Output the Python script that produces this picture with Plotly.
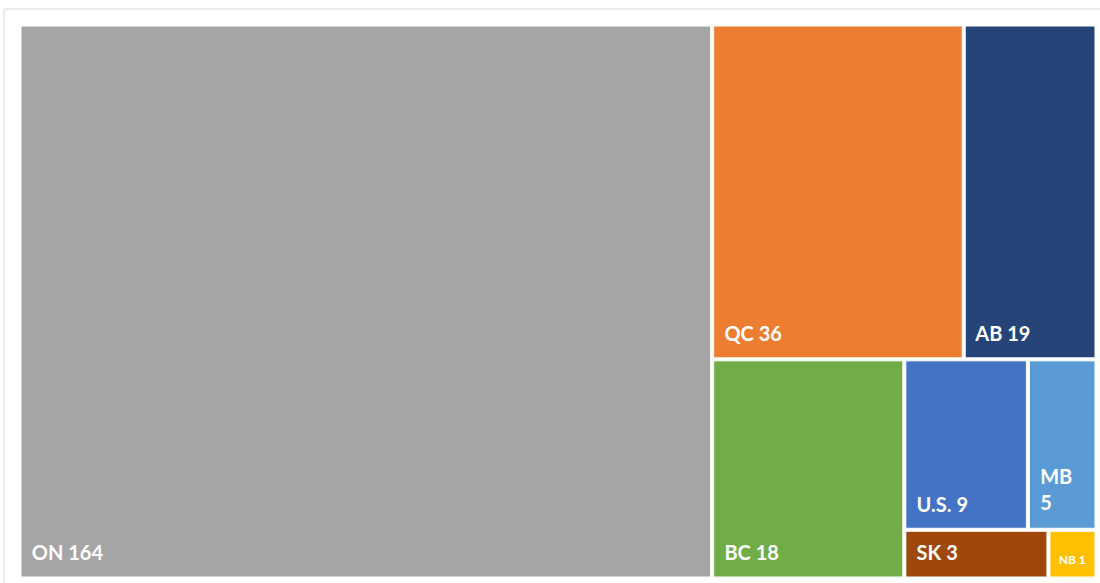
import plotly.graph_objects as go

# Data
regions = ["ON", "QC", "AB", "BC", "U.S.", "MB", "SK", "NB"]
counts = [164, 36, 19, 18, 9, 5, 3, 1]
colors = ["#A5A5A5", "#ED7D31", "#264478", "#70AD47", "#4472C4", "#5B9BD5", "#9E480E", "#FFC000"]

root = "All"
labels = [root] + regions
parents = [""] + [root] * len(regions)
values = [0] + counts
node_colors = ["white"] + colors

INDENT = "<span style='font-size:12px'>&nbsp;</span>&nbsp;"


def label_template(size, two_lines=False):
    sep = "<br><br>" + INDENT if two_lines else " "
    return ("<span style='font-size:%dpx'>%s%%{label}%s%%{value}</span><br>&nbsp;"
            % (size, INDENT, sep))


templates = [""]
base_sizes = [9]
for r in regions:
    if r == "MB":
        templates.append(label_template(20, two_lines=True))
        base_sizes.append(10)
    elif r == "NB":
        templates.append(label_template(12))
        base_sizes.append(7)
    else:
        templates.append(label_template(20))
        base_sizes.append(9)

fig = go.Figure(go.Treemap(
    labels=labels,
    parents=parents,
    values=values,
    sort=True,
    texttemplate=templates,
    textposition="bottom left",
    textfont=dict(family="Lato", color="white", size=base_sizes, weight="bold"),
    marker=dict(colors=node_colors, line=dict(width=1, color="white"),
                pad=dict(t=0, l=0, r=0, b=0)),
    tiling=dict(packing="squarify", squarifyratio=1.5, pad=3),
    pathbar=dict(visible=False),
    hoverinfo="label+value",
))

fig.update_layout(
    width=1100, height=583,
    margin=dict(l=21, r=5, t=26, b=6),
    paper_bgcolor="white",
    font=dict(family="Lato"),
    shapes=[dict(type="rect", xref="paper", yref="paper",
                 x0=-0.0158, x1=1.05, y0=-0.1, y1=1.0309,
                 line=dict(color="#D9D9D9", width=1), fillcolor="rgba(0,0,0,0)", layer="below")],
)

fig.write_html("out.html", config={"displayModeBar": False},
               post_script="document.body.style.margin='0px';")
